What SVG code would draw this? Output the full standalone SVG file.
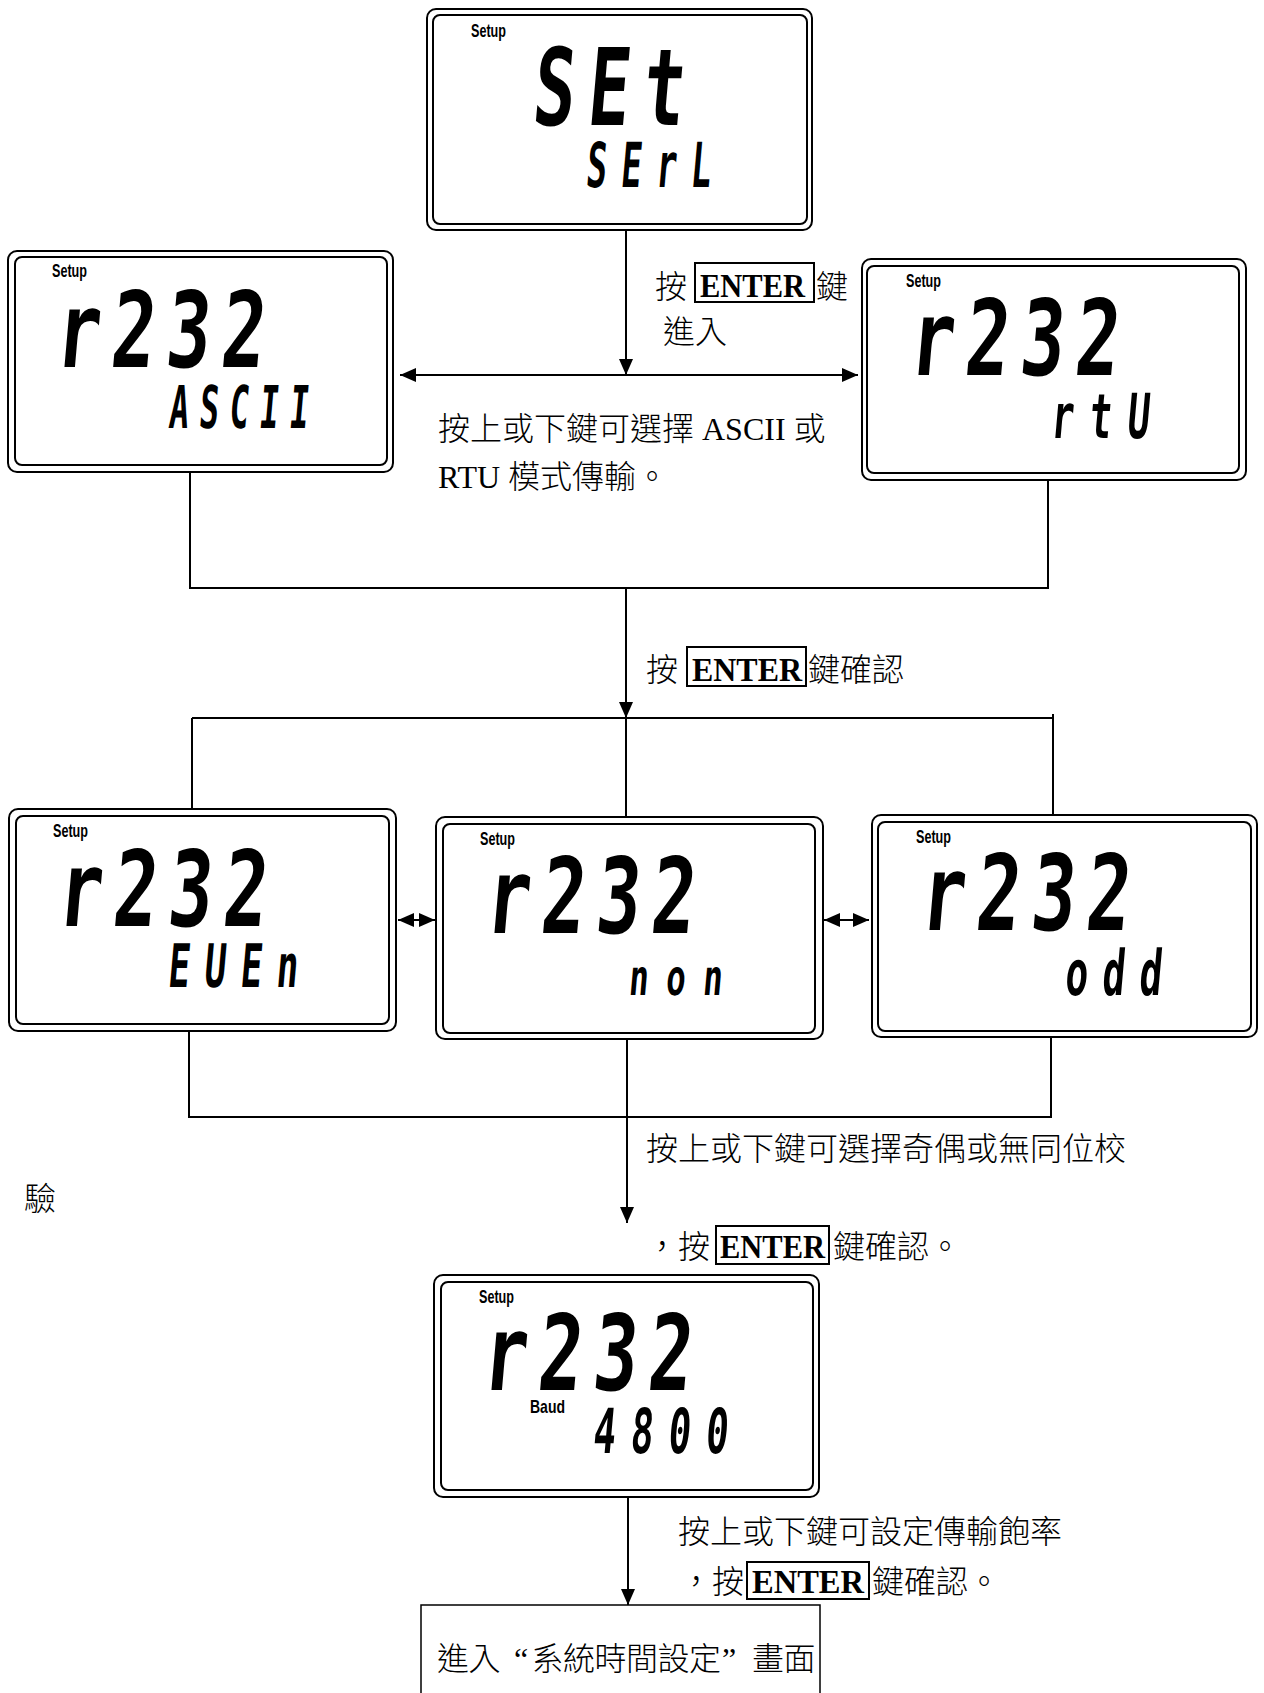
<svg xmlns="http://www.w3.org/2000/svg" width="1264" height="1693" viewBox="0 0 1264 1693">
<style>
.outer{fill:#fff;stroke:#000;stroke-width:2}
.inner{fill:none;stroke:#000;stroke-width:2}
.setup{font-family:"Liberation Sans",Arial,sans-serif;font-weight:bold;font-size:19px;fill:#000}
.lcd{font-family:"DejaVu Sans Mono",monospace;font-weight:bold;fill:#000}
.note{font-family:"Liberation Serif","Noto Sans CJK TC",serif;font-size:32px;font-weight:300;fill:#000}
.enter{font-family:"Liberation Serif",serif;font-weight:bold;font-size:33px;fill:#000}
.ebox{fill:none;stroke:#000;stroke-width:2}
.wire{fill:none;stroke:#000;stroke-width:2}
.plain{fill:none;stroke:#000;stroke-width:1.5}
</style>
<defs>
<marker id="ah" markerUnits="userSpaceOnUse" markerWidth="16" markerHeight="14" refX="16" refY="7" orient="auto-start-reverse">
<path d="M0,0 L16,7 L0,14 z" fill="#000"/>
</marker>
</defs>

<g id="connectors">
<line class="wire" x1="626" y1="230" x2="626" y2="375" marker-end="url(#ah)"/>
<line class="wire" x1="400" y1="375" x2="858" y2="375" marker-start="url(#ah)" marker-end="url(#ah)"/>
<polyline class="wire" points="190,472 190,588 1048,588 1048,478"/>
<line class="wire" x1="626" y1="588" x2="626" y2="718" marker-end="url(#ah)"/>
<line class="wire" x1="192" y1="718" x2="1053" y2="718"/>
<line class="wire" x1="192" y1="718" x2="192" y2="809"/>
<line class="wire" x1="626" y1="718" x2="626" y2="817"/>
<line class="wire" x1="1053" y1="714" x2="1053" y2="815"/>
<line class="wire" x1="398" y1="920" x2="435" y2="920" marker-start="url(#ah)" marker-end="url(#ah)"/>
<line class="wire" x1="824" y1="920" x2="869" y2="920" marker-start="url(#ah)" marker-end="url(#ah)"/>
<polyline class="wire" points="189,1031 189,1117 1051,1117 1051,1037"/>
<line class="wire" x1="627" y1="1039" x2="627" y2="1223" marker-end="url(#ah)"/>
<line class="wire" x1="628" y1="1497" x2="628" y2="1605" marker-end="url(#ah)"/>
</g>

<g id="node-set">
<rect class="outer" x="427" y="9" width="385" height="221" rx="9"/>
<rect class="inner" x="433" y="15" width="374" height="209" rx="7"/>
<text class="setup" x="471" y="37" textLength="35" lengthAdjust="spacingAndGlyphs">Setup</text>
<text class="lcd" font-size="107" letter-spacing="20" transform="translate(531,125) skewX(-5) scale(0.65,1)">SEt</text>
<text class="lcd" font-size="62" letter-spacing="26" transform="translate(585,187) skewX(-5) scale(0.55,1)">SErL</text>
</g>

<g id="node-ascii">
<rect class="outer" x="8" y="251" width="385" height="221" rx="9"/>
<rect class="inner" x="15" y="257" width="372" height="208" rx="7"/>
<text class="setup" x="52" y="277" textLength="35" lengthAdjust="spacingAndGlyphs">Setup</text>
<text class="lcd" font-size="105" letter-spacing="15.4" transform="translate(54,367) skewX(-5) scale(0.7,1)">r232</text>
<text class="lcd" font-size="59" letter-spacing="19" transform="translate(168,428) skewX(-5) scale(0.55,1)">ASCII</text>
</g>

<g id="node-rtu">
<rect class="outer" x="862" y="259" width="384" height="221" rx="9"/>
<rect class="inner" x="867" y="266" width="372" height="207" rx="7"/>
<text class="setup" x="906" y="287" textLength="35" lengthAdjust="spacingAndGlyphs">Setup</text>
<text class="lcd" font-size="105" letter-spacing="15.4" transform="translate(908,375) skewX(-5) scale(0.7,1)">r232</text>
<text class="lcd" font-size="62" letter-spacing="26" transform="translate(1050,438) skewX(-5) scale(0.6,1)">rtU</text>
</g>

<g id="node-even">
<rect class="outer" x="9" y="809" width="387" height="222" rx="9"/>
<rect class="inner" x="16" y="816" width="373" height="208" rx="7"/>
<text class="setup" x="53" y="837" textLength="35" lengthAdjust="spacingAndGlyphs">Setup</text>
<text class="lcd" font-size="105" letter-spacing="15.4" transform="translate(56,926) skewX(-5) scale(0.7,1)">r232</text>
<text class="lcd" font-size="60" letter-spacing="24" transform="translate(167,987) skewX(-5) scale(0.6,1)">EUEn</text>
</g>

<g id="node-non">
<rect class="outer" x="436" y="817" width="387" height="222" rx="9"/>
<rect class="inner" x="443" y="824" width="372" height="209" rx="7"/>
<text class="setup" x="480" y="845" textLength="35" lengthAdjust="spacingAndGlyphs">Setup</text>
<text class="lcd" font-size="105" letter-spacing="15.4" transform="translate(484,933) skewX(-5) scale(0.7,1)">r232</text>
<text class="lcd" font-size="50" letter-spacing="26.8" transform="translate(628,995) skewX(-5) scale(0.65,1)">non</text>
</g>

<g id="node-odd">
<rect class="outer" x="872" y="815" width="385" height="222" rx="9"/>
<rect class="inner" x="878" y="822" width="373" height="209" rx="7"/>
<text class="setup" x="916" y="843" textLength="35" lengthAdjust="spacingAndGlyphs">Setup</text>
<text class="lcd" font-size="105" letter-spacing="15.4" transform="translate(919,930) skewX(-5) scale(0.7,1)">r232</text>
<text class="lcd" font-size="63" letter-spacing="23.8" transform="translate(1064,995) skewX(-5) scale(0.6,1)">odd</text>
</g>

<g id="node-baud">
<rect class="outer" x="434" y="1275" width="385" height="222" rx="9"/>
<rect class="inner" x="441" y="1282" width="372" height="208" rx="7"/>
<text class="setup" x="479" y="1303" textLength="35" lengthAdjust="spacingAndGlyphs">Setup</text>
<text class="lcd" font-size="105" letter-spacing="15.4" transform="translate(481,1390) skewX(-5) scale(0.7,1)">r232</text>
<text class="setup" x="530" y="1413" font-size="18" textLength="35" lengthAdjust="spacingAndGlyphs">Baud</text>
<text class="lcd" font-size="62" letter-spacing="25.2" transform="translate(592,1453) skewX(-5) scale(0.6,1)">4800</text>
</g>

<g id="node-next">
<rect class="plain" x="421" y="1605" width="399" height="100"/>
<text class="note" y="1670" font-family="Noto Sans CJK TC, sans-serif" x="437 468.5 514 531.5 563 594.5 626 657.5 689 722 752 783.5">進入“系統時間設定”畫面</text>
</g>

<g id="labels">
<text class="note" x="655" y="298">按</text>
<rect class="ebox" x="695" y="263" width="119" height="39"/>
<text class="enter" x="700" y="297" textLength="105" lengthAdjust="spacingAndGlyphs">ENTER</text>
<text class="note" x="816" y="298">鍵</text>
<text class="note" x="663" y="343">進入</text>

<text class="note" x="438" y="440">按上或下鍵可選擇 ASCII 或</text>
<text class="note" x="438" y="488">RTU 模式傳輸。</text>

<text class="note" x="646" y="681">按</text>
<rect class="ebox" x="687" y="647" width="119" height="39"/>
<text class="enter" x="692" y="681" textLength="110" lengthAdjust="spacingAndGlyphs">ENTER</text>
<text class="note" x="808" y="681">鍵確認</text>

<text class="note" x="646" y="1160">按上或下鍵可選擇奇偶或無同位校</text>
<text class="note" x="24" y="1210">驗</text>

<text class="note" x="646" y="1258">，按</text>
<rect class="ebox" x="716" y="1226" width="113" height="38"/>
<text class="enter" x="720" y="1258" textLength="105" lengthAdjust="spacingAndGlyphs">ENTER</text>
<text class="note" x="833" y="1258">鍵確認。</text>

<text class="note" x="678" y="1543">按上或下鍵可設定傳輸飽率</text>
<text class="note" x="680" y="1593">，按</text>
<rect class="ebox" x="747" y="1562" width="122" height="37"/>
<text class="enter" x="752" y="1593" textLength="112" lengthAdjust="spacingAndGlyphs">ENTER</text>
<text class="note" x="872" y="1593">鍵確認。</text>
</g>
</svg>
